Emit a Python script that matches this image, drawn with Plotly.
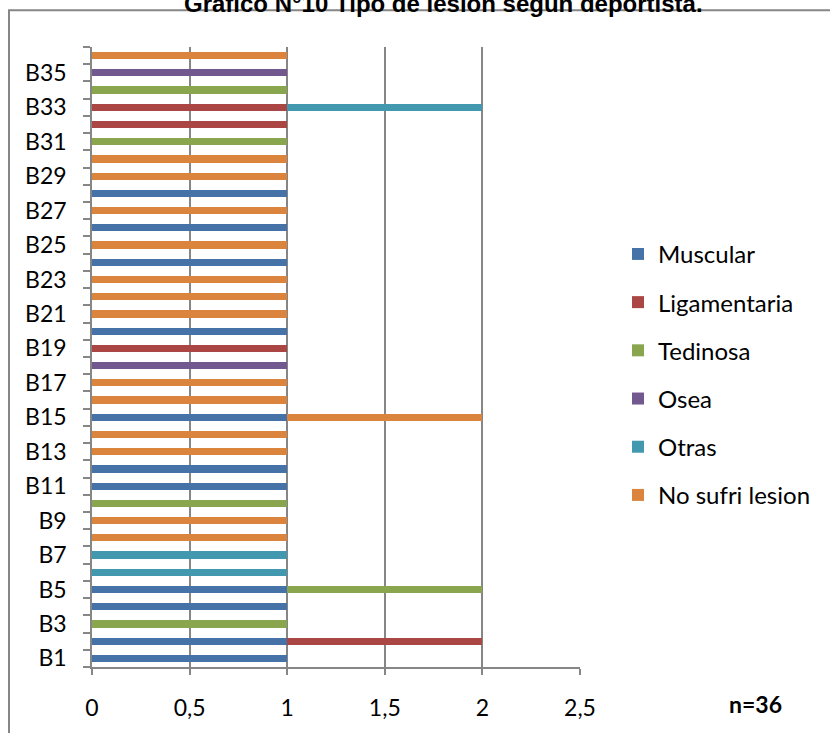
import plotly.graph_objects as go

categories = [f"B{i}" for i in range(1, 37)]

series_names = ["Muscular", "Ligamentaria", "Tedinosa", "Osea", "Otras", "No sufri lesion"]
series_colors = ["#4572A7", "#AA4643", "#89A54E", "#71588F", "#4198AF", "#DB843D"]

# which players (B#) have value 1 in each series
muscular = [1, 1, 0, 1, 1, 0, 0, 0, 0, 0, 1, 1, 0, 0, 1, 0, 0, 0, 0, 1, 0, 0, 0, 1, 0, 1, 0, 1, 0, 0, 0, 0, 0, 0, 0, 0]
ligamentaria = [0, 1, 0, 0, 0, 0, 0, 0, 0, 0, 0, 0, 0, 0, 0, 0, 0, 0, 1, 0, 0, 0, 0, 0, 0, 0, 0, 0, 0, 0, 0, 1, 1, 0, 0, 0]
tedinosa = [0, 0, 1, 0, 1, 0, 0, 0, 0, 1, 0, 0, 0, 0, 0, 0, 0, 0, 0, 0, 0, 0, 0, 0, 0, 0, 0, 0, 0, 0, 1, 0, 0, 1, 0, 0]
osea = [0, 0, 0, 0, 0, 0, 0, 0, 0, 0, 0, 0, 0, 0, 0, 0, 0, 1, 0, 0, 0, 0, 0, 0, 0, 0, 0, 0, 0, 0, 0, 0, 0, 0, 1, 0]
otras = [0, 0, 0, 0, 0, 1, 1, 0, 0, 0, 0, 0, 0, 0, 0, 0, 0, 0, 0, 0, 0, 0, 0, 0, 0, 0, 0, 0, 0, 0, 0, 0, 1, 0, 0, 0]
no_sufri = [0, 0, 0, 0, 0, 0, 0, 1, 1, 0, 0, 0, 1, 1, 1, 1, 1, 0, 0, 0, 1, 1, 1, 0, 1, 0, 1, 0, 1, 1, 0, 0, 0, 0, 0, 1]

x_ticks = [0, 0.5, 1, 1.5, 2, 2.5]

title_text = "Gráfico N°10 Tipo de lesión según deportista."
n_text = "n=36"

all_series = [muscular, ligamentaria, tedinosa, osea, otras, no_sufri]

ypos = list(range(1, len(categories) + 1))
label_pos = ypos[0::2]
label_txt = categories[0::2]
boundaries = [p - 0.5 for p in ypos] + [ypos[-1] + 0.5]

FONT = "Lato, Calibri, sans-serif"
GRAY = "#868686"

fig = go.Figure()
for name, color, vals in zip(series_names, series_colors, all_series):
    fig.add_trace(go.Bar(
        y=ypos, x=vals, name=name, orientation="h",
        marker=dict(color=color, line=dict(width=0)),
        width=0.42, legendgroup=name,
    ))

W, H = 830, 733
L, R, T, B = 92, 250, 47, 60
pw, ph = W - L - R, H - T - B


def px2x(px):
    return (px - L) / pw


def px2y(py):
    return (H - B - py) / ph


fig.update_layout(
    width=W, height=H,
    margin=dict(l=L, r=R, t=T, b=B),
    barmode="stack",
    paper_bgcolor="white", plot_bgcolor="white",
    separators=",.",
    font=dict(family=FONT, size=23, color="#000000"),
    showlegend=True,
    legend=dict(
        x=px2x(618), xanchor="left",
        y=px2y(378), yanchor="middle",
        traceorder="grouped", tracegroupgap=14,
        font=dict(family=FONT, size=24, color="#000000"),
        bgcolor="rgba(0,0,0,0)",
    ),
    xaxis=dict(
        range=[0, 2.5], tickmode="array", tickvals=x_ticks,
        showgrid=True, gridcolor=GRAY, gridwidth=1.5,
        showline=True, linecolor=GRAY, linewidth=1.5,
        ticks="outside", ticklen=6, tickcolor=GRAY, tickwidth=1.5,
        ticklabelstandoff=14, zeroline=False,
        tickfont=dict(family=FONT, size=23),
    ),
    yaxis=dict(
        range=[0.5, len(categories) + 0.5],
        tickmode="array", tickvals=label_pos, ticktext=label_txt,
        showgrid=False, zeroline=False,
        showline=True, linecolor=GRAY, linewidth=1.5,
        ticks="", ticklabelstandoff=19,
        tickfont=dict(family=FONT, size=23),
        minor=dict(tickmode="array", tickvals=boundaries, ticks="outside",
                   ticklen=7, tickcolor=GRAY, tickwidth=1.5, showgrid=False),
    ),
    shapes=[dict(type="rect", xref="paper", yref="paper",
                 x0=px2x(9), x1=px2x(840), y0=px2y(10), y1=px2y(745),
                 line=dict(color=GRAY, width=2), fillcolor="rgba(0,0,0,0)", layer="below")],
    annotations=[
        dict(text="<b>" + title_text + "</b>", xref="paper", yref="paper",
             x=px2x(443), y=px2y(19), xanchor="center", yanchor="bottom",
             showarrow=False, font=dict(family="Liberation Sans, Arial", size=24, color="#000000"),
             ),
        dict(text="<b>" + n_text + "</b>", xref="paper", yref="paper",
             x=px2x(755), y=px2y(710), xanchor="center", yanchor="middle",
             showarrow=False, font=dict(family=FONT, size=23, color="#000000")),
    ],
)

fig.write_html("out.html")
